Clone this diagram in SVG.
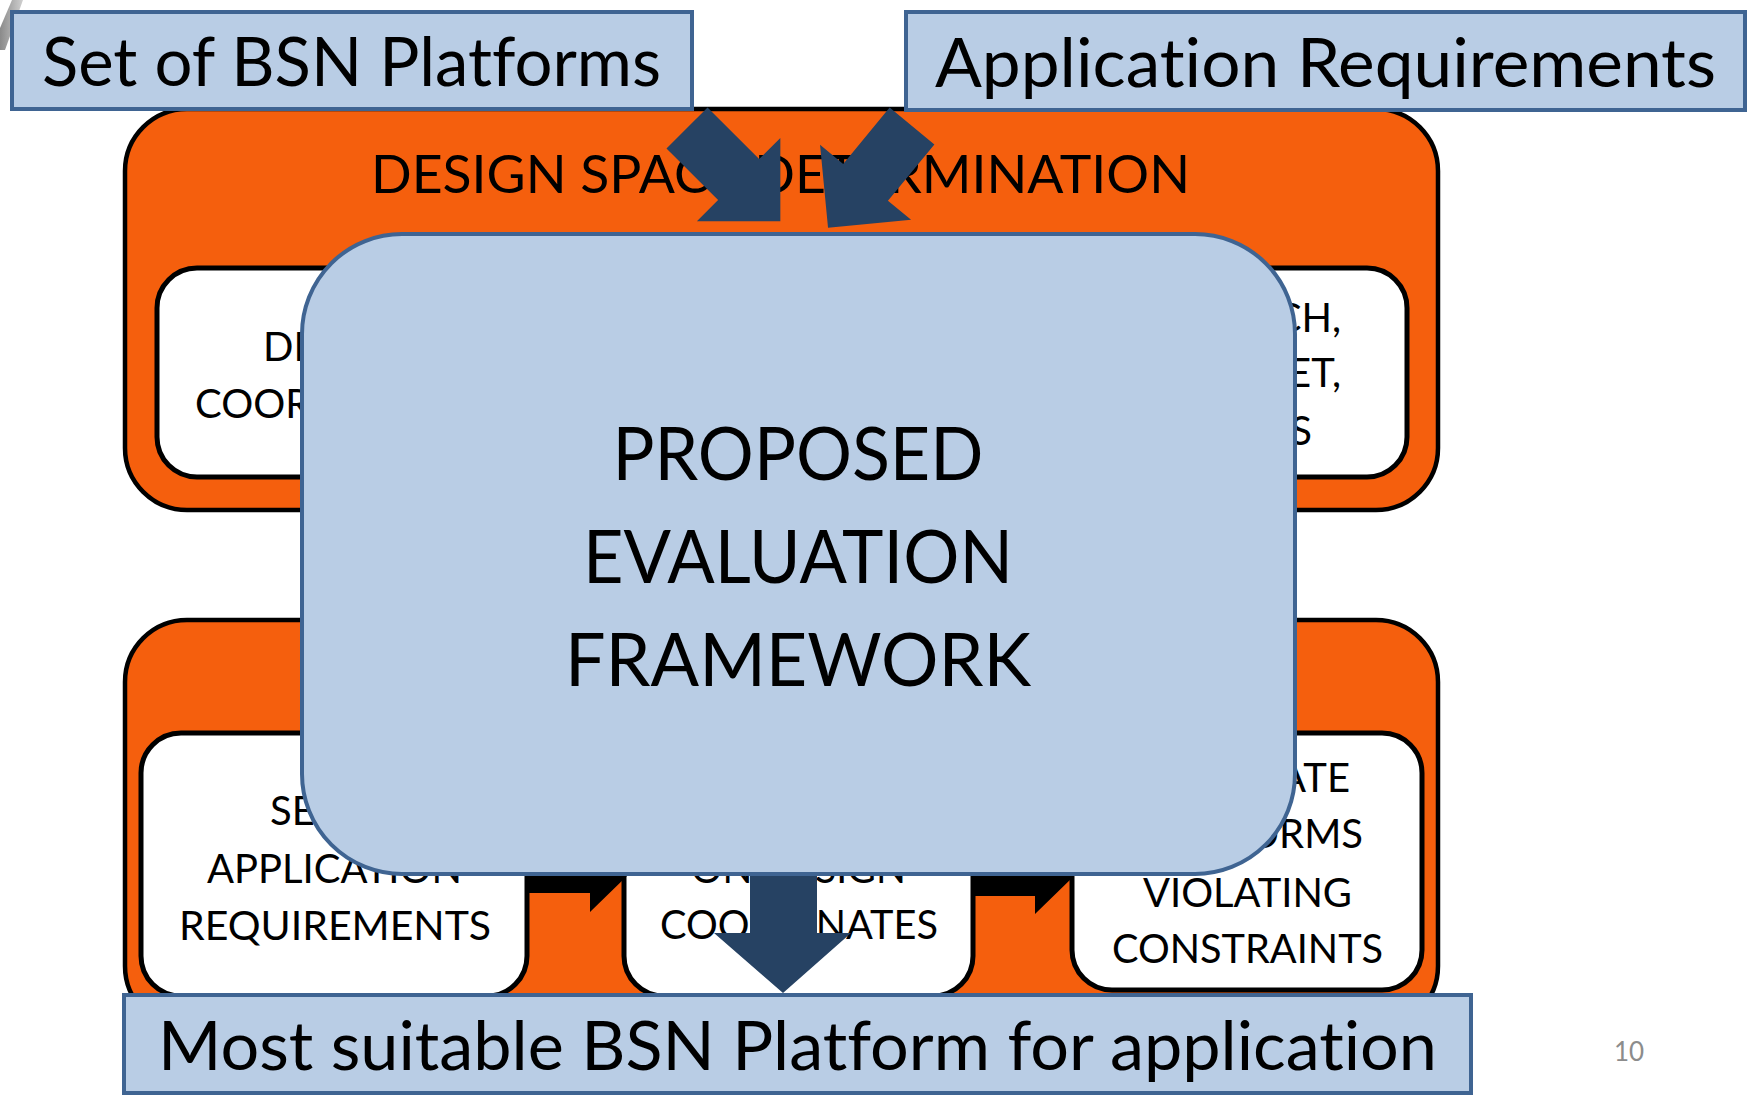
<svg xmlns="http://www.w3.org/2000/svg" width="1749" height="1095" viewBox="0 0 1749 1095">
  <defs>
    <style>
      .frame { fill: #F55F0D; stroke: #000; stroke-width: 4.5; }
      .step { fill: #FFFFFF; stroke: #000; stroke-width: 5; }
      .blue { fill: #B9CDE5; stroke: #3F6492; stroke-width: 4; }
      .flow { fill: #264263; }
      .link { fill: #000; }
      text { font-family: Lato, "Open Sans", "Liberation Sans", sans-serif; fill: #000; font-variant-ligatures: none; font-feature-settings: "liga" 0, "clig" 0; }
      .io { font-size: 67px; }
      .hdr { font-size: 53px; }
      .big { font-size: 74px; text-anchor: middle; }
      .lbl { font-size: 40px; }
      .pg { font-size: 26px; fill: #8C8C8C; }
    </style>
    <linearGradient id="edge" x1="0" y1="0" x2="1" y2="0">
      <stop offset="0" stop-color="#8A8A8A"/>
      <stop offset="1" stop-color="#D0D0D0"/>
    </linearGradient>
    <path id="fat" d="M0,-29 L73,-29 L73,-59 L132,0 L73,59 L73,29 L0,29 Z"/>
  </defs>

  <rect width="1749" height="1095" fill="#FFFFFF"/>
  <polygon points="12,0 23,0 5,50 0,50 0,28" fill="url(#edge)"/>

  <!-- stage 1: design space determination -->
  <g id="design-space">
    <rect class="frame" x="125" y="109" width="1313" height="401" rx="62"/>
    <text class="hdr" x="371" y="193" textLength="819" lengthAdjust="spacingAndGlyphs">DESIGN SPACE DETERMINATION</text>
  </g>
  <g id="ds-step-left">
    <rect class="step" x="157" y="268" width="400" height="209" rx="40"/>
    <text class="lbl" x="263" y="361">DE</text>
    <text class="lbl" x="195" y="418">COOR</text>
  </g>
  <g id="ds-step-right">
    <rect class="step" x="1040" y="268" width="367" height="209" rx="40"/>
    <text class="lbl" x="1341" y="332" text-anchor="end">CH,</text>
    <text class="lbl" x="1341" y="387" text-anchor="end">ET,</text>
    <text class="lbl" x="1312" y="445" text-anchor="end">S</text>
  </g>

  <!-- stage 2: selection -->
  <g id="selection">
    <rect class="frame" x="125" y="620" width="1313" height="408" rx="62"/>
  </g>
  <g id="sel-step-requirements">
    <rect class="step" x="141" y="733" width="386" height="263" rx="40"/>
    <text class="lbl" x="270" y="825">SE</text>
    <text class="lbl" x="207" y="883" textLength="255" lengthAdjust="spacingAndGlyphs">APPLICATION</text>
    <text class="lbl" x="179" y="940" textLength="312" lengthAdjust="spacingAndGlyphs">REQUIREMENTS</text>
  </g>
  <g id="sel-step-coordinates">
    <rect class="step" x="624" y="733" width="349" height="263" rx="40"/>
    <text class="lbl" x="691" y="883" textLength="215" lengthAdjust="spacingAndGlyphs">ON DESIGN</text>
    <text class="lbl" x="660" y="939" textLength="278" lengthAdjust="spacingAndGlyphs">COORDINATES</text>
  </g>
  <g id="sel-step-constraints">
    <rect class="step" x="1072" y="733" width="350" height="257" rx="40"/>
    <text class="lbl" x="1350" y="792" text-anchor="end">ATE</text>
    <text class="lbl" x="1363" y="848" text-anchor="end">ORMS</text>
    <text class="lbl" x="1143" y="907" textLength="209" lengthAdjust="spacingAndGlyphs">VIOLATING</text>
    <text class="lbl" x="1112" y="963" textLength="271" lengthAdjust="spacingAndGlyphs">CONSTRAINTS</text>
  </g>

  <!-- connectors -->
  <g id="connectors">
    <polygon class="link" points="527,857 590,857 590,838 628,875 590,912 590,893 527,893"/>
    <polygon class="link" points="973,858 1035,858 1035,840 1073,877 1035,914 1035,896 973,896"/>
    <use href="#fat" class="flow" transform="translate(687,128) rotate(45)"/>
    <use href="#fat" class="flow" transform="translate(912,126) rotate(129.5)"/>
    <polygon class="flow" points="750,866 817,866 817,933 851,933 783,993 714,933 750,933"/>
  </g>

  <!-- overall framework -->
  <g id="framework">
    <rect class="blue" x="302" y="234" width="993" height="640" rx="100"/>
    <text class="big" x="798" y="480" textLength="371" lengthAdjust="spacingAndGlyphs">PROPOSED</text>
    <text class="big" x="798" y="583" textLength="430" lengthAdjust="spacingAndGlyphs">EVALUATION</text>
    <text class="big" x="798" y="686" textLength="466" lengthAdjust="spacingAndGlyphs">FRAMEWORK</text>
  </g>

  <!-- inputs and output -->
  <g id="platforms">
    <rect class="blue" x="12" y="12" width="680" height="97"/>
    <text class="io" x="42" y="86" textLength="619" lengthAdjust="spacingAndGlyphs">Set of BSN Platforms</text>
  </g>
  <g id="requirements">
    <rect class="blue" x="906" y="12" width="839" height="98"/>
    <text class="io" x="935" y="87" textLength="781" lengthAdjust="spacingAndGlyphs">Application Requirements</text>
  </g>
  <g id="result">
    <rect class="blue" x="124" y="995" width="1347" height="98"/>
    <text class="io" x="158" y="1070" textLength="1279" lengthAdjust="spacingAndGlyphs">Most suitable BSN Platform for application</text>
  </g>

  <text class="pg" x="1614" y="1061">10</text>
</svg>
